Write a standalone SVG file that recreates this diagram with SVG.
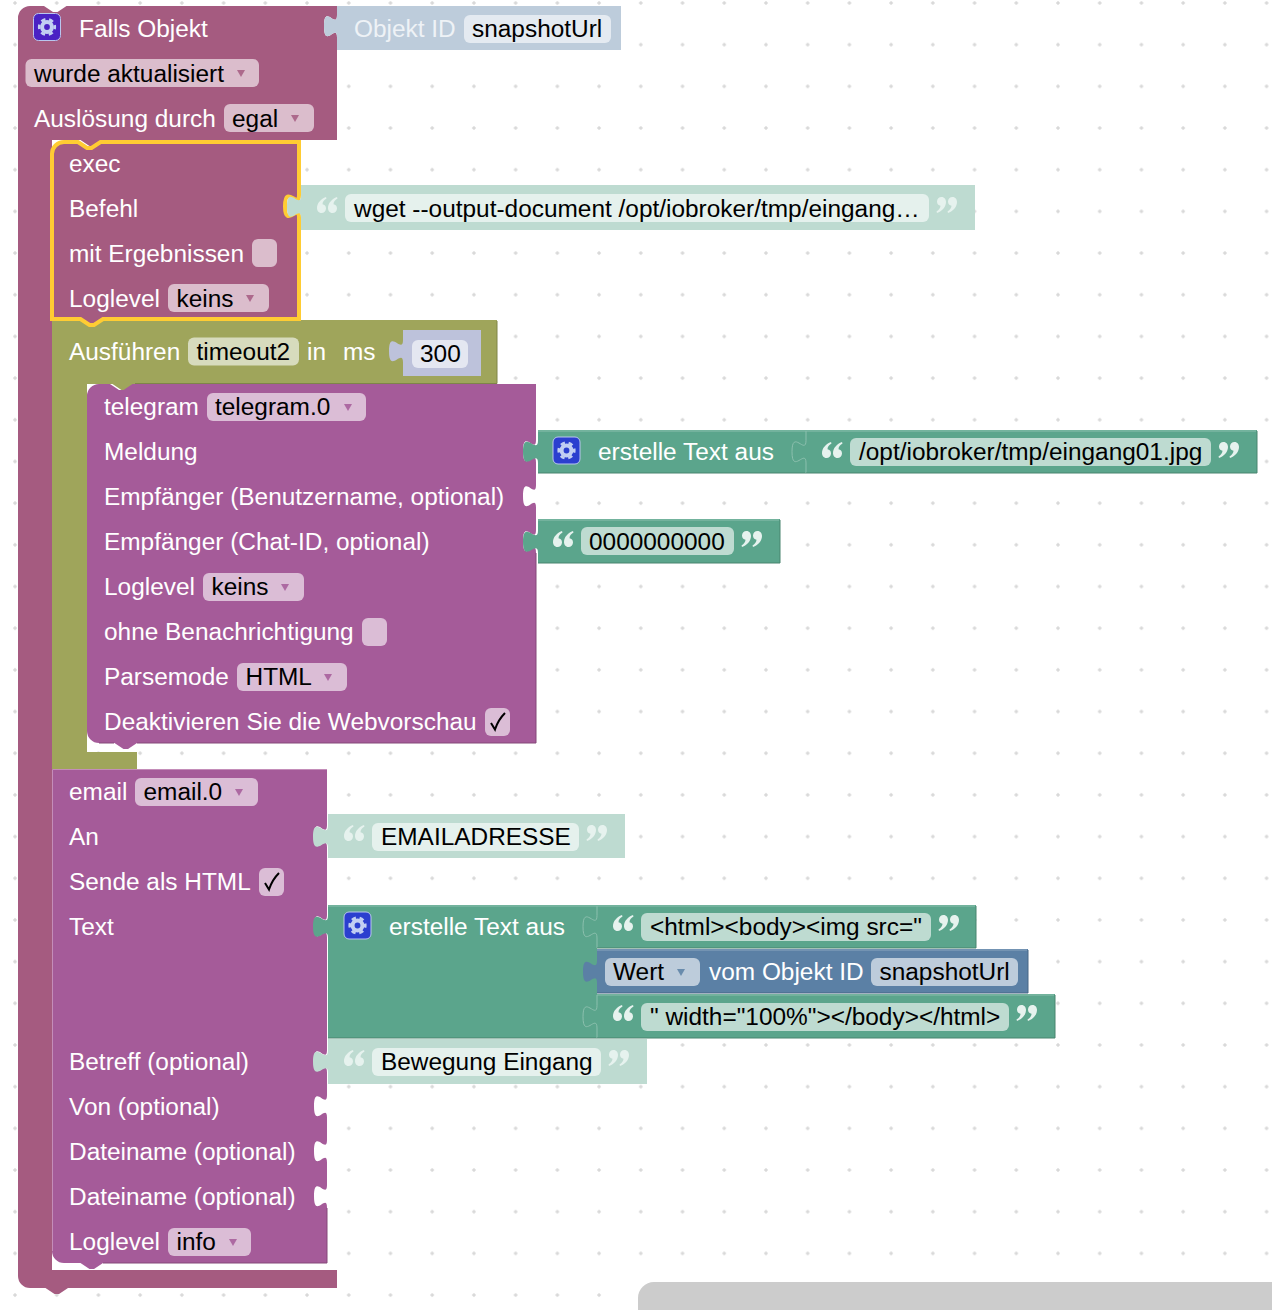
<svg xmlns="http://www.w3.org/2000/svg" xmlns:xlink="http://www.w3.org/1999/xlink" width="1272" height="1310" viewBox="0 0 1272 1310">
<style>
text{font-family:"Liberation Sans",Arial,sans-serif;font-size:24.42px}
.w{fill:#fff}.lw{fill:#eef2f6}.k{fill:#000}
.hat{fill:#a55b80}.pur{fill:#a55b99}.oli{fill:#9fa55b}.grn{fill:#5ba58c}.blu{fill:#5b80a5}
.lgrn{fill:#bedbd1}.lblu{fill:#bdccdb}.lnum{fill:#bdc2db}
.edge{fill:none;stroke-width:1}
.fh{fill:#dbbdcc}.fp{fill:#dbbdd6}.fo{fill:#d7dbbd}.fg{fill:#bedbd1}.fb{fill:#bdccdb}.fl{fill:#e5f1ed}.fn{fill:#e4e7f1}.fi{fill:#e4eaf1}
.tri{opacity:.85}
.q{fill:#e6f2ee}
.ib{stroke:#b9c6ee;stroke-width:1}
.ib1{fill:#2b3fcf}.ib2{fill:#4a22c4}
</style>
<defs>
<pattern id="grid" x="13" y="1" width="41.72" height="41.68" patternUnits="userSpaceOnUse">
<path d="M2,0V4M0,2H4" stroke="#ccc" stroke-width="1" fill="none"/>
</pattern>
<g id="lq"><path d="M4.5,16C1.5,16 0,13.5 0,11C0,6 4,2 9,0L9.5,1.5C7,3 5.5,5 5.5,7.2C7.5,7.5 9,9 9,11.5C9,14 7,16 4.5,16Z"/><path transform="translate(11,0)" d="M4.5,16C1.5,16 0,13.5 0,11C0,6 4,2 9,0L9.5,1.5C7,3 5.5,5 5.5,7.2C7.5,7.5 9,9 9,11.5C9,14 7,16 4.5,16Z"/></g>
<use id="rq" xlink:href="#lq" href="#lq" transform="rotate(180 10 8)"/>
<g id="gear">
<circle cx="13.5" cy="13.5" r="4.900" fill="none" stroke="#c2cff2" stroke-width="4"/>
<circle cx="13.5" cy="13.5" r="7.800" fill="none" stroke="#c2cff2" stroke-width="2.600" stroke-dasharray="4.400 3.770" stroke-dashoffset="2.200"/>
</g>
<path id="chk" d="M6,15L10,21.5Q13,12 20,5" fill="none" stroke="#000" stroke-width="2"/>
</defs>
<rect width="1272" height="1310" fill="#fff"/>
<rect width="1272" height="1310" fill="url(#grid)"/>
<g id="connectors"/>

<g id="hat-block">
<path class="hat" d="M18,18A12,12 0 0 1 30,6H44l9,6h4.5l9,-6H337V15c0,15 -13,-12 -13,11.25s13,-3.75 13,11.25V140H103l-9,6h-4.5l-9,-6H52V1270H337V1288H68l-9,6h-4.5l-9,-6H30A12,12 0 0 1 18,1276Z"/>
<rect class="ib ib2" x="33.500" y="13.500" width="27" height="27" rx="5"/>
<use xlink:href="#gear" href="#gear" x="33.500" y="13.500"/>
<text class="w" x="79" y="37">Falls Objekt</text>
<rect class="fh" x="25.500" y="59" width="233.500" height="28" rx="6"/>
<text class="k" x="34" y="82">wurde aktualisiert</text>
<polygon class="tri" fill="#a55b80" points="237,70 245,70 241,77"/>
<text class="w" x="34" y="127">Auslösung durch</text>
<rect class="fh" x="224" y="104" width="90" height="28" rx="6"/>
<text class="k" x="232" y="127">egal</text>
<polygon class="tri" fill="#a55b80" points="291,115 299,115 295,122"/>
</g>

<g id="objekt-id">
<path class="lblu" d="M337,6H621V50H337V37.500c0,-15 -13,12 -13,-11.25s13,3.750 13,-11.250Z"/>
<text class="lw" x="354" y="37">Objekt ID</text>
<rect class="fi" x="464" y="15" width="147" height="28" rx="6"/>
<text class="k" x="472" y="37">snapshotUrl</text>
</g>

<g id="timeout-block">
<path class="oli" d="M52,320H497V384H135l-9,6h-4.500l-9,-6H87V752H137V769H103l-9,6h-4.5l-9,-6H52Z"/>
<path class="edge" stroke="#7f8449" d="M497,321V383.500H135"/>
<text class="w" x="69" y="360">Ausführen</text>
<rect class="fo" x="188" y="337.500" width="111" height="28" rx="6"/>
<text class="k" x="196.500" y="360">timeout2</text>
<text class="w" x="307" y="360">in</text>
<text class="w" x="343" y="360">ms</text>
</g>
<g id="number-300">
<path class="lnum" d="M403,330H481V376H403V362.500c0,-15 -14,12 -14,-11.25s14,3.750 14,-11.250Z"/>
<rect class="fn" x="412" y="340" width="56" height="28" rx="6"/>
<text class="k" x="420" y="362">300</text>
</g>

<g id="exec-block">
<path class="hat" stroke="#fc3" stroke-width="4" d="M52,154A12,12 0 0 1 64,142H78l9,6h4.500l9,-6H299V195c0,15 -14,-12 -14,11.250s14,-3.750 14,11.250V319H103l-9,6h-4.500l-9,-6H52Z"/>
<text class="w" x="69" y="172">exec</text>
<text class="w" x="69" y="217">Befehl</text>
<text class="w" x="69" y="262">mit Ergebnissen</text>
<rect class="fh" x="252" y="239" width="25" height="28" rx="6"/>
<text class="w" x="69" y="307">Loglevel</text>
<rect class="fh" x="168" y="284" width="101" height="28" rx="6"/>
<text class="k" x="176.500" y="307">keins</text>
<polygon class="tri" fill="#a55b80" points="246,295 254,295 250,302"/>
</g>
<g id="string-wget">
<path class="lgrn" d="M301,185H975V230H301V218c0,-15 -14,12 -14,-11.25s14,3.750 14,-11.250Z"/>
<use class="q" xlink:href="#lq" href="#lq" x="317" y="197"/>
<rect class="fl" x="345" y="194" width="584" height="28" rx="6"/>
<text class="k" x="354" y="217">wget --output-document /opt/iobroker/tmp/eingang…</text>
<use class="q" xlink:href="#rq" href="#rq" x="937" y="197"/>
</g>

<g id="telegram-block">
<path class="pur" d="M87,396A12,12 0 0 1 99,384H110l9,6h4.500l9,-6H536V440c0,15 -13,-12 -13,11.250s13,-3.750 13,11.250V485c0,15 -13,-12 -13,11.250s13,-3.750 13,11.250V530c0,15 -13,-12 -13,11.250s13,-3.750 13,11.250V743H137l-9,6h-4.500l-9,-6H99A12,12 0 0 1 87,731Z"/>
<path class="edge" stroke="#844979" d="M536,553V743H137M114,743H99"/>
<text class="w" x="104" y="415">telegram</text>
<rect class="fp" x="207" y="393" width="159" height="28" rx="6"/>
<text class="k" x="215" y="415">telegram.0</text>
<polygon class="tri" fill="#a55b99" points="344,404 352,404 348,411"/>
<text class="w" x="104" y="460">Meldung</text>
<text class="w" x="104" y="505">Empfänger (Benutzername, optional)</text>
<text class="w" x="104" y="550">Empfänger (Chat-ID, optional)</text>
<text class="w" x="104" y="595">Loglevel</text>
<rect class="fp" x="203" y="573" width="101" height="28" rx="6"/>
<text class="k" x="211.500" y="595">keins</text>
<polygon class="tri" fill="#a55b99" points="281,584 289,584 285,591"/>
<text class="w" x="104" y="640">ohne Benachrichtigung</text>
<rect class="fp" x="362" y="618" width="25" height="28" rx="6"/>
<text class="w" x="104" y="685">Parsemode</text>
<rect class="fp" x="237" y="663" width="110" height="28" rx="6"/>
<text class="k" x="245.500" y="685">HTML</text>
<polygon class="tri" fill="#a55b99" points="324,674 332,674 328,681"/>
<text class="w" x="104" y="730">Deaktivieren Sie die Webvorschau</text>
<rect class="fp" x="485" y="708" width="25" height="28" rx="6"/>
<use xlink:href="#chk" href="#chk" x="485" y="708"/>
</g>
<g id="text-join-1">
<path class="grn" d="M538,430H806V473H538V463c0,-15 -15,12 -15,-11.25s15,3.750 15,-11.250Z"/>
<path class="edge" stroke="#8cc0ae" d="M538,431H806"/>
<path class="edge" stroke="#49846f" d="M538,473H806"/>
<rect class="ib ib1" x="553" y="437" width="27" height="27" rx="5"/>
<use xlink:href="#gear" href="#gear" x="553" y="437"/>
<text class="w" x="598" y="460">erstelle Text aus</text>
</g>
<g id="string-path">
<path class="grn" d="M806,430H1257V473H806V463c0,-15 -14,12 -14,-11.25s14,3.750 14,-11.250Z"/>
<path class="edge" stroke="#8cc0ae" d="M806,473V463c0,-15 -14,12 -14,-11.25s14,3.750 14,-11.250V431H1256"/>
<path class="edge" stroke="#49846f" d="M806,473H1257V431"/>
<use class="q" xlink:href="#lq" href="#lq" x="822" y="442"/>
<rect class="fg" x="850" y="438" width="361" height="28" rx="6"/>
<text class="k" x="859" y="460">/opt/iobroker/tmp/eingang01.jpg</text>
<use class="q" xlink:href="#rq" href="#rq" x="1219" y="442"/>
</g>
<g id="string-chatid">
<path class="grn" d="M538,519H780V563H538V553c0,-15 -15,12 -15,-11.25s15,3.750 15,-11.250Z"/>
<path class="edge" stroke="#8cc0ae" d="M538,520H779"/>
<path class="edge" stroke="#49846f" d="M538,563H780V520"/>
<use class="q" xlink:href="#lq" href="#lq" x="553" y="531"/>
<rect class="fg" x="581" y="527" width="153" height="28" rx="6"/>
<text class="k" x="589" y="550">0000000000</text>
<use class="q" xlink:href="#rq" href="#rq" x="742" y="531"/>
</g>

<g id="email-block">
<path class="pur" d="M52,769H327V825c0,15 -13,-12 -13,11.250s13,-3.750 13,11.250V915c0,15 -13,-12 -13,11.250s13,-3.750 13,11.250V1050c0,15 -13,-12 -13,11.250s13,-3.750 13,11.250V1095c0,15 -13,-12 -13,11.250s13,-3.750 13,11.250V1140c0,15 -13,-12 -13,11.250s13,-3.750 13,11.250V1185c0,15 -13,-12 -13,11.250s13,-3.750 13,11.250V1263H103l-9,6h-4.500l-9,-6H64A12,12 0 0 1 52,1251Z"/>
<path class="edge" stroke="#c48db9" d="M52.500,1251V769.500H327"/>
<path class="edge" stroke="#844979" d="M327,1208V1263H103"/>
<text class="w" x="69" y="800">email</text>
<rect class="fp" x="135" y="778" width="123" height="28" rx="6"/>
<text class="k" x="143.500" y="800">email.0</text>
<polygon class="tri" fill="#a55b99" points="235,789 243,789 239,796"/>
<text class="w" x="69" y="845">An</text>
<text class="w" x="69" y="890">Sende als HTML</text>
<rect class="fp" x="259" y="868" width="25" height="28" rx="6"/>
<use xlink:href="#chk" href="#chk" x="259" y="868"/>
<text class="w" x="69" y="935">Text</text>
<text class="w" x="69" y="1070">Betreff (optional)</text>
<text class="w" x="69" y="1115">Von (optional)</text>
<text class="w" x="69" y="1160">Dateiname (optional)</text>
<text class="w" x="69" y="1205">Dateiname (optional)</text>
<text class="w" x="69" y="1250">Loglevel</text>
<rect class="fp" x="168" y="1228" width="83" height="28" rx="6"/>
<text class="k" x="176.500" y="1250">info</text>
<polygon class="tri" fill="#a55b99" points="229,1239 237,1239 233,1246"/>
</g>
<g id="string-email">
<path class="lgrn" d="M328,814H625V858H328V848c0,-15 -15,12 -15,-11.25s15,3.750 15,-11.250Z"/>
<use class="q" xlink:href="#lq" href="#lq" x="344" y="825"/>
<rect class="fl" x="372" y="823" width="207" height="28" rx="6"/>
<text class="k" x="381" y="845">EMAILADRESSE</text>
<use class="q" xlink:href="#rq" href="#rq" x="587" y="825"/>
</g>
<g id="text-join-2">
<path class="grn" d="M328,905H597V1038H328V938c0,-15 -15,12 -15,-11.25s15,3.750 15,-11.250Z"/>
<path class="edge" stroke="#8cc0ae" d="M328,906H597"/>
<path class="edge" stroke="#49846f" d="M328,1038H597"/>
<rect class="ib ib1" x="344" y="912" width="27" height="27" rx="5"/>
<use xlink:href="#gear" href="#gear" x="344" y="912"/>
<text class="w" x="389" y="935">erstelle Text aus</text>
</g>
<g id="string-html-open">
<path class="grn" d="M597,905H976V948H597V938c0,-15 -14,12 -14,-11.25s14,3.750 14,-11.250Z"/>
<path class="edge" stroke="#8cc0ae" d="M597,948V938c0,-15 -14,12 -14,-11.25s14,3.750 14,-11.250V906H975"/>
<path class="edge" stroke="#49846f" d="M597,948H976V906"/>
<use class="q" xlink:href="#lq" href="#lq" x="613" y="915"/>
<rect class="fg" x="641" y="913" width="290" height="28" rx="6"/>
<text class="k" x="650" y="935">&lt;html&gt;&lt;body&gt;&lt;img src="</text>
<use class="q" xlink:href="#rq" href="#rq" x="939" y="915"/>
</g>
<g id="get-value">
<path class="blu" d="M597,949H1028V993H597V983c0,-15 -14,12 -14,-11.25s14,3.750 14,-11.250Z"/>
<path class="edge" stroke="#8ca6c0" d="M597,950H1027"/>
<path class="edge" stroke="#496684" d="M597,993H1028V950"/>
<rect class="fb" x="605" y="958" width="95" height="28" rx="6"/>
<text class="k" x="613" y="980">Wert</text>
<polygon class="tri" fill="#5b80a5" points="677,969 685,969 681,976"/>
<text class="w" x="709" y="980">vom Objekt ID</text>
<rect class="fb" x="871" y="958" width="147" height="28" rx="6"/>
<text class="k" x="879.500" y="980">snapshotUrl</text>
</g>
<g id="string-html-close">
<path class="grn" d="M597,994H1055V1038H597V1028c0,-15 -14,12 -14,-11.25s14,3.750 14,-11.250Z"/>
<path class="edge" stroke="#8cc0ae" d="M597,1038V1028c0,-15 -14,12 -14,-11.25s14,3.750 14,-11.250V995H1054"/>
<path class="edge" stroke="#49846f" d="M597,1038H1055V995"/>
<use class="q" xlink:href="#lq" href="#lq" x="613" y="1005"/>
<rect class="fg" x="641" y="1003" width="368" height="28" rx="6"/>
<text class="k" x="650" y="1025">" width="100%"&gt;&lt;/body&gt;&lt;/html&gt;</text>
<use class="q" xlink:href="#rq" href="#rq" x="1017" y="1005"/>
</g>
<g id="string-subject">
<path class="lgrn" d="M328,1039H647V1084H328V1073c0,-15 -15,12 -15,-11.25s15,3.750 15,-11.250Z"/>
<use class="q" xlink:href="#lq" href="#lq" x="344" y="1050"/>
<rect class="fl" x="372" y="1048" width="229" height="28" rx="6"/>
<text class="k" x="381" y="1070">Bewegung Eingang</text>
<use class="q" xlink:href="#rq" href="#rq" x="609" y="1050"/>
</g>
<path id="scrollbar" fill="#ccc" d="M1272,1282H654A16,16 0 0 0 638,1298V1310H1272Z"/>
</svg>
